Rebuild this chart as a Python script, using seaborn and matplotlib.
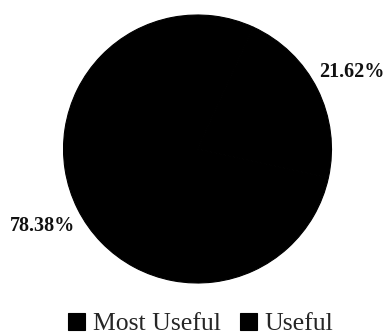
import matplotlib
matplotlib.use("Agg")
import matplotlib.pyplot as plt
import seaborn as sns

# Share of respondents per usefulness rating
categories = ["Most Useful", "Useful"]
shares = [78.38, 21.62]

sns.set_theme(style="white")
plt.rcParams["font.family"] = ["Liberation Serif", "DejaVu Serif"]

fig = plt.figure(figsize=(3.86, 3.36), dpi=100)
# square axes centred on the pie, radius 1 in data units
cx, cy, r = 197.5 / 386, 1 - 149 / 336, 134
ax = fig.add_axes([cx - r / 386, cy - r / 336, 2 * r / 386, 2 * r / 336])

colors = ["#000000", "#000000"]
wedges, _, autotexts = ax.pie(
    shares, colors=colors, startangle=-12.4, counterclock=False, radius=1.0,
    autopct="%.2f%%", pctdistance=1.29,
    wedgeprops=dict(linewidth=0.8, edgecolor="#000000"),
    textprops=dict(fontsize=14.5, fontweight="bold", color="#111111"),
)

ax.set_xlim(-1, 1)
ax.set_ylim(-1, 1)
ax.set_aspect("equal")
ax.axis("off")

fig.legend(wedges, categories, loc="center", bbox_to_anchor=(200.5 / 386, 1 - 324 / 336),
           ncol=2, frameon=False, fontsize=18.5, handlelength=0.66, handleheight=0.66,
           handletextpad=0.3, columnspacing=0.75, borderpad=0)

fig.savefig("out.png", dpi=100)
